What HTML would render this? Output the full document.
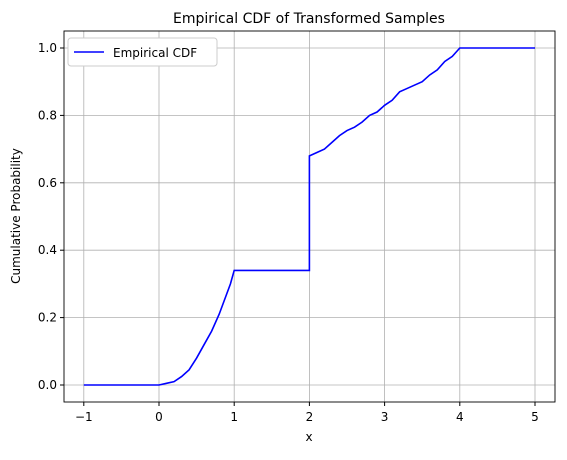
<!DOCTYPE html>
<html><head><meta charset="utf-8"><style>
body{margin:0;background:#fff;font-family:"Liberation Sans","DejaVu Sans",sans-serif;}
svg text{font-family:"DejaVu Sans","Liberation Sans",sans-serif;}
</style></head><body>
<svg id="chart" width="567" height="455" viewBox="0 0 567 455" xmlns="http://www.w3.org/2000/svg">
<rect width="567" height="455" fill="#fff"/>
<text x="309" y="23" text-anchor="middle" font-size="14">Empirical CDF of Transformed Samples</text>
<g id="grid"></g>
<g id="ticks"></g>
<path id="line" fill="none" stroke="#0000ff" stroke-width="1.6"/>
<rect x="64" y="31" width="491" height="371" fill="none" stroke="#000" stroke-width="0.9"/>
<text x="309" y="441" text-anchor="middle" font-size="12">x</text>
<text transform="translate(20,216) rotate(-90)" text-anchor="middle" font-size="12">Cumulative Probability</text>
<g>
<rect x="68" y="38" width="149" height="28" rx="3" fill="#fff" stroke="#ccc"/>
<line x1="74" y1="52" x2="104" y2="52" stroke="#0000ff" stroke-width="1.6"/>
<text x="113" y="57" font-size="12">Empirical CDF</text>
</g>
</svg>
<script>
const xTicks=[-1,0,1,2,3,4,5];
const yTicks=[0.0,0.2,0.4,0.6,0.8,1.0];
const xs=[-1,0,0.1,0.2,0.3,0.4,0.5,0.6,0.7,0.8,0.9,0.95,1.0,2.0,2.0,2.1,2.2,2.3,2.4,2.5,2.6,2.7,2.8,2.9,3.0,3.1,3.2,3.3,3.4,3.5,3.6,3.7,3.8,3.9,4.0,5.0];
const ys=[0,0,0.005,0.01,0.025,0.045,0.08,0.12,0.16,0.21,0.27,0.3,0.34,0.34,0.68,0.69,0.70,0.72,0.74,0.755,0.765,0.78,0.80,0.81,0.83,0.845,0.87,0.88,0.89,0.90,0.92,0.935,0.96,0.975,1.0,1.0];
const X=v=>159+(v-0)*75.2;
const Y=v=>385-v*337;
const ns="http://www.w3.org/2000/svg";
const g=document.getElementById('grid'),t=document.getElementById('ticks');
function mk(tag,a,p){const e=document.createElementNS(ns,tag);for(const k in a)e.setAttribute(k,a[k]);p.appendChild(e);return e;}
xTicks.forEach(v=>{
 const l=mk('line',{x1:X(v),x2:X(v),y1:31,y2:402,stroke:'#b0b0b0','stroke-width':0.8},g);
 
 
 mk('line',{x1:X(v),x2:X(v),y1:402,y2:406,stroke:'#000'},t);
 const tx=mk('text',{x:X(v),y:421,'text-anchor':'middle','font-size':12},t);
 tx.textContent=v<0?'\u2212'+Math.abs(v):v;
 
 
});
yTicks.forEach(v=>{
 const l=mk('line',{x1:64,x2:555,y1:Y(v),y2:Y(v),stroke:'#b0b0b0','stroke-width':0.8},g);
 
 
 mk('line',{x1:60,x2:64,y1:Y(v),y2:Y(v),stroke:'#000'},t);
 const tx=mk('text',{x:57,y:Y(v)+4,'text-anchor':'end','font-size':12},t);
 tx.textContent=v.toFixed(1);
 
 
});
document.getElementById('line').setAttribute('d',xs.map((x,i)=>(i?'L':'M')+X(x)+','+Y(ys[i])).join(' '));
</script>
</body></html>
